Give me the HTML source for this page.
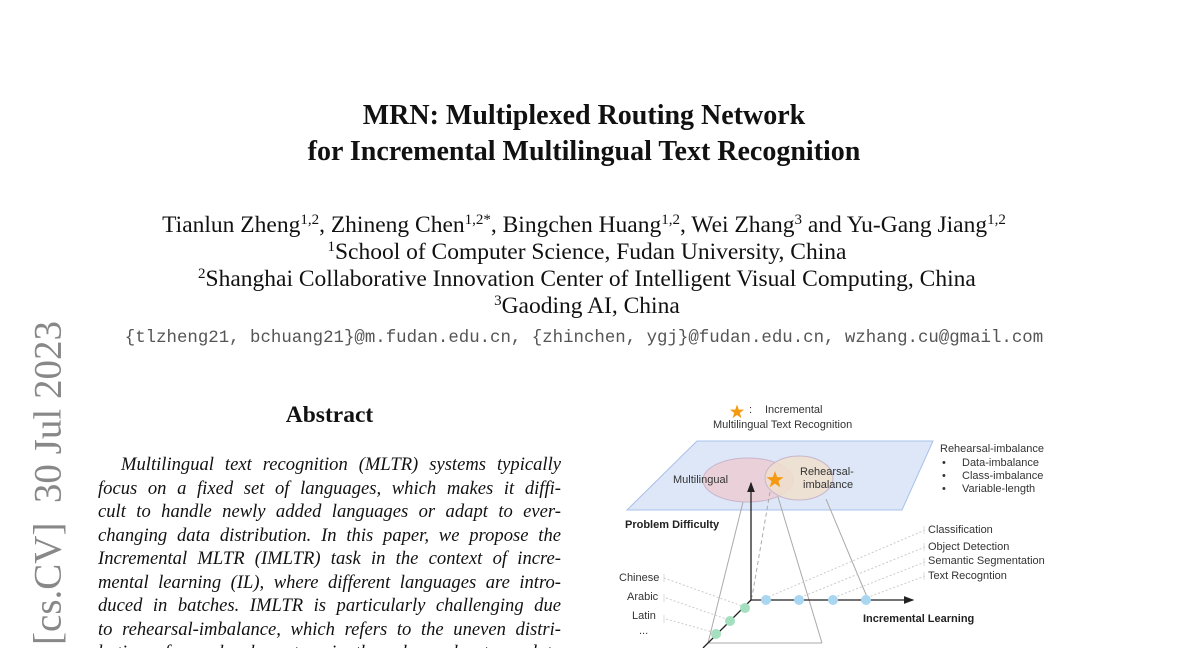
<!DOCTYPE html>
<html><head><meta charset="utf-8"><style>
html,body{margin:0;padding:0;background:#fff;width:1200px;height:648px;overflow:hidden;position:relative;font-family:"Liberation Serif",serif;color:#111}
.c{position:absolute;left:0;width:1168px;text-align:center;white-space:nowrap}
.t{font-weight:bold;font-size:28px}
.a{font-size:23.5px}
sup{font-size:15px;vertical-align:8px;line-height:0}
.m{font-family:"Liberation Mono",monospace;font-size:17.4px;color:#555}
#side{position:absolute;left:48px;top:483px;transform:translate(-50%,-50%) rotate(-90deg);font-size:39px;color:#888;white-space:nowrap}
#abs{position:absolute;left:98px;top:453px;width:463px;font-style:italic;font-size:18.6px;line-height:23.5px}
#abs div{text-align:justify;text-align-last:justify;white-space:nowrap;height:23.5px}
svg{position:absolute;left:0;top:0}
svg text{font-family:"Liberation Sans",sans-serif;font-size:11px;fill:#333}
</style></head><body>
<div class="c t" style="top:100px">MRN: Multiplexed Routing Network</div>
<div class="c t" style="top:136px">for Incremental Multilingual Text Recognition</div>
<div class="c a" style="top:212px;left:0">Tianlun Zheng<sup>1,2</sup>, Zhineng Chen<sup>1,2*</sup>, Bingchen Huang<sup>1,2</sup>, Wei Zhang<sup>3</sup> and Yu-Gang Jiang<sup>1,2</sup></div>
<div class="c a" style="top:239px;left:0">&nbsp;<sup>1</sup>School of Computer Science, Fudan University, China</div>
<div class="c a" style="top:266px;left:0">&nbsp;<sup>2</sup>Shanghai Collaborative Innovation Center of Intelligent Visual Computing, China</div>
<div class="c a" style="top:293px;left:0">&nbsp;<sup>3</sup>Gaoding AI, China</div>
<div class="c m" style="top:329px;left:0">{tlzheng21, bchuang21}@m.fudan.edu.cn, {zhinchen, ygj}@fudan.edu.cn, wzhang.cu@gmail.com</div>
<div id="side">[cs.CV]&nbsp; 30 Jul 2023</div>
<div style="position:absolute;left:98px;width:463px;top:402px;text-align:center;font-weight:bold;font-size:23.5px">Abstract</div>
<div id="abs">
<div style="padding-left:23px">Multilingual text recognition (MLTR) systems typically</div>
<div>focus on a fixed set of languages, which makes it diffi-</div>
<div>cult to handle newly added languages or adapt to ever-</div>
<div>changing data distribution. In this paper, we propose the</div>
<div>Incremental MLTR (IMLTR) task in the context of incre-</div>
<div>mental learning (IL), where different languages are intro-</div>
<div>duced in batches. IMLTR is particularly challenging due</div>
<div>to rehearsal-imbalance, which refers to the uneven distri-</div>
<div>bution of sample characters in the rehearsal set, used to</div>
</div>
<svg width="1200" height="648">
<defs><marker id="ar" markerWidth="8" markerHeight="8" refX="7" refY="4" orient="auto"><path d="M0,1 L8,4 L0,7z" fill="#222"/></marker>
<polygon id="st" points="0,-1 0.235,-0.324 0.951,-0.309 0.38,0.124 0.588,0.809 0,0.4 -0.588,0.809 -0.38,0.124 -0.951,-0.309 -0.235,-0.324"/></defs>
<polygon points="697,441 933,441 902,510 627,510" fill="#dde7f8" stroke="#a9c0ea"/>
<ellipse cx="748" cy="480" rx="45" ry="22" fill="#ead0d8" stroke="#c9b5cc"/>
<ellipse cx="799" cy="478" rx="34" ry="22" fill="#eedfcc" fill-opacity="0.85" stroke="#c9b5cc"/>
<text x="673" y="483">Multilingual</text>
<text x="800" y="475">Rehearsal-</text><text x="803" y="488">imbalance</text>
<use href="#st" transform="translate(775,480) scale(9)" fill="#f59a10"/>
<use href="#st" transform="translate(737,412) scale(7.5)" fill="#f59a10"/>
<text x="749" y="413">:</text><text x="765" y="413">Incremental</text>
<text x="713" y="428">Multilingual Text Recognition</text>
<text x="940" y="452">Rehearsal-imbalance</text>
<text x="942" y="466">•</text><text x="962" y="466">Data-imbalance</text>
<text x="942" y="479">•</text><text x="962" y="479">Class-imbalance</text>
<text x="942" y="492">•</text><text x="962" y="492">Variable-length</text>
<text x="625" y="528" font-weight="bold" font-size="12" style="fill:#222">Problem Difficulty</text>
<text x="863" y="622" font-weight="bold" font-size="12" style="fill:#222">Incremental Learning</text>
<g stroke="#aaa" fill="none">
<line x1="743" y1="502" x2="708" y2="643"/>
<line x1="778" y1="497" x2="822" y2="643"/>
<line x1="826" y1="499" x2="867" y2="597"/>
<line x1="708" y1="643" x2="822" y2="643"/>
<line x1="770" y1="492" x2="752" y2="597" stroke-dasharray="4,3"/>
</g>
<g stroke="#ccc" stroke-dasharray="2,2" fill="none">
<path d="M664,578 L745,607"/><path d="M666,598 L729,620"/><path d="M666,619 L716,633"/>
<path d="M925,530 L766,598"/><path d="M925,547 L799,598"/><path d="M925,562 L833,598"/><path d="M925,576 L866,598"/>
</g>
<g stroke="#ddd"><line x1="924" y1="526" x2="924" y2="534"/><line x1="924" y1="543" x2="924" y2="551"/><line x1="924" y1="558" x2="924" y2="566"/><line x1="924" y1="572" x2="924" y2="580"/><line x1="664" y1="574" x2="664" y2="582"/><line x1="664" y1="594" x2="664" y2="602"/><line x1="664" y1="615" x2="664" y2="623"/></g>
<text x="928" y="533">Classification</text><text x="928" y="550">Object Detection</text>
<text x="928" y="564">Semantic Segmentation</text><text x="928" y="579">Text Recogntion</text>
<text x="619" y="581">Chinese</text><text x="627" y="600">Arabic</text><text x="632" y="619">Latin</text><text x="639" y="634">...</text>
<g stroke="#222" stroke-width="1.3">
<line x1="751" y1="600" x2="751" y2="483" marker-end="url(#ar)"/>
<line x1="751" y1="600" x2="913" y2="600" marker-end="url(#ar)"/>
<line x1="751" y1="600" x2="703" y2="648"/>
</g>
<g fill="#a9d6f0"><circle cx="766" cy="600" r="5"/><circle cx="799" cy="600" r="5"/><circle cx="833" cy="600" r="5"/><circle cx="866" cy="600" r="5"/></g>
<g fill="#a4e0c0"><circle cx="745" cy="608" r="5"/><circle cx="730" cy="621" r="5"/><circle cx="716" cy="634" r="5"/></g>
</svg>
</body></html>
